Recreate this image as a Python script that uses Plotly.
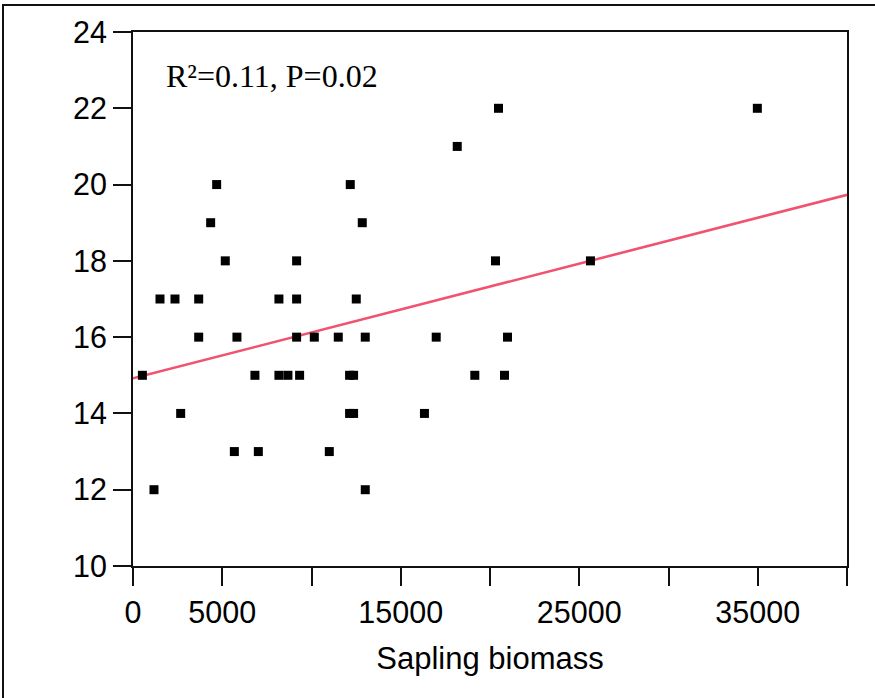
import plotly.graph_objects as go

# Data
sapling_biomass = [526, 1176, 1512, 2352, 2671, 3680, 3680, 4350, 4687, 5170,
                   5678, 5823, 6831, 7022, 8175, 8175, 8679, 9166, 9166, 9166,
                   9334, 10157, 10997, 11500, 12134, 12358, 12134, 12358, 12172, 12508,
                   12844, 13012, 13012, 16327, 16987, 18164, 19149, 20308, 20476, 20812,
                   20980, 25627, 34977]
response = [15, 12, 17, 17, 14, 17, 16, 19, 20, 18,
            13, 16, 15, 13, 17, 15, 15, 18, 17, 16,
            15, 16, 13, 16, 15, 15, 14, 14, 20, 17,
            19, 16, 12, 14, 16, 21, 15, 18, 22, 15,
            16, 18, 22]

fit_x = [0, 40000]
fit_intercept = 14.92
fit_slope = 1.2025e-4
fit_y = [fit_intercept + fit_slope * v for v in fit_x]

x_tickvals = [0, 5000, 10000, 15000, 20000, 25000, 30000, 35000, 40000]
x_ticktext = ["0", "5000", "", "15000", "", "25000", "", "35000", ""]
y_tickvals = [10, 12, 14, 16, 18, 20, 22, 24]

annotation_text = "R²=0.11, P=0.02"
x_title = "Sapling biomass"

fig = go.Figure()
fig.add_trace(go.Scatter(x=fit_x, y=fit_y, mode="lines",
                         line=dict(color="#F0536F", width=2.6),
                         showlegend=False, hoverinfo="skip"))
fig.add_trace(go.Scatter(x=sapling_biomass, y=response, mode="markers",
                         marker=dict(symbol="square", size=9, color="black",
                                     line=dict(width=0)),
                         showlegend=False))

L, R, T, B = 133, 28, 32, 132
W, H = 875, 698
pw, ph = W - L - R, H - T - B

def px_to_paper_x(px):
    return (px - L) / pw

def px_to_paper_y(py):
    return (H - B - py) / ph

axis_font = dict(family="Liberation Sans, Arial", size=30.5, color="black")

fig.update_layout(
    width=W, height=H,
    margin=dict(l=L, r=R, t=T, b=B),
    paper_bgcolor="white", plot_bgcolor="white",
    xaxis=dict(range=[0, 40000], tickvals=x_tickvals, ticktext=x_ticktext,
               ticks="outside", ticklen=18, tickwidth=2, tickcolor="#111",
               showline=True, linewidth=2, linecolor="#111", mirror=True,
               showgrid=False, zeroline=False, tickfont=axis_font,
               title=dict(text=x_title, font=dict(family="Liberation Sans, Arial", size=31, color="black"),
                          standoff=20)),
    yaxis=dict(range=[10, 24], tickvals=y_tickvals,
               ticks="outside", ticklen=18, tickwidth=2, tickcolor="#111",
               showline=True, linewidth=2, linecolor="#111", mirror=True,
               showgrid=False, zeroline=False, tickfont=axis_font),
    annotations=[dict(text=annotation_text, xref="paper", yref="paper",
                      x=px_to_paper_x(164), y=px_to_paper_y(76),
                      xanchor="left", yanchor="middle", showarrow=False,
                      font=dict(family="Liberation Serif, Times New Roman", size=32, color="black"))],
    shapes=[dict(type="rect", xref="paper", yref="paper",
                 x0=px_to_paper_x(3), x1=px_to_paper_x(900),
                 y0=px_to_paper_y(720), y1=px_to_paper_y(5),
                 line=dict(color="#111", width=2), fillcolor="rgba(0,0,0,0)",
                 layer="above")],
)

fig.write_html("out.html")
